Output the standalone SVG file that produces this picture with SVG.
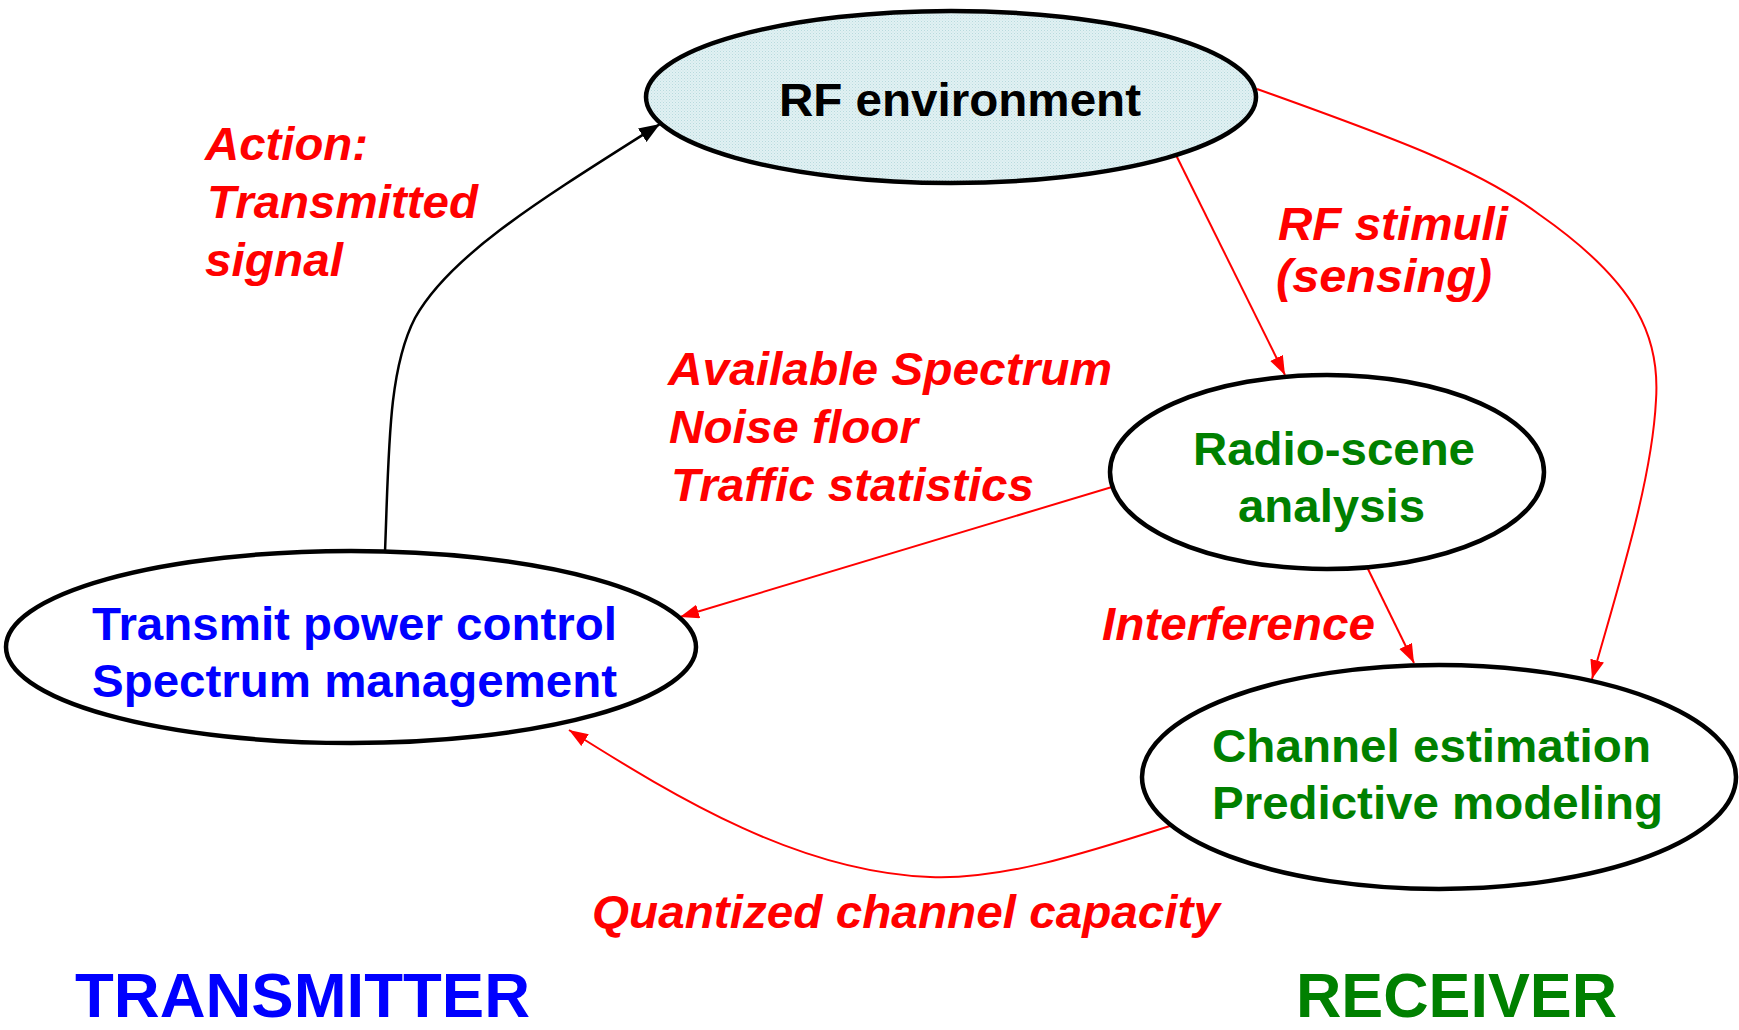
<svg xmlns="http://www.w3.org/2000/svg" width="1739" height="1030" viewBox="0 0 1739 1030">
<style>
  text { font-family: "Liberation Sans", Arial, sans-serif; font-weight: bold; font-size: 46px; }
  .lbl { fill: #ff0000; font-style: italic; }
  .blue { fill: #0000ff; }
  .green { fill: #008000; }
  .black { fill: #000000; }
  .big { font-size: 63px; }
  .node { stroke: #000; stroke-width: 4.5; fill: #ffffff; }
  .red { stroke: #ff0000; stroke-width: 2; fill: none; marker-end: url(#ar); }
  .blk { stroke: #000; stroke-width: 2.5; fill: none; marker-end: url(#ab); }
</style>
<defs>
  <pattern id="dots" width="3" height="3" patternUnits="userSpaceOnUse">
    <rect width="3" height="3" fill="#e1f1f3"/>
    <rect width="1" height="1" fill="#b8dadd"/>
    <rect x="1.5" y="1.5" width="1" height="1" fill="#c6e1e4"/>
  </pattern>
  <marker id="ar" markerUnits="userSpaceOnUse" markerWidth="20" markerHeight="16" refX="19" refY="7" orient="auto">
    <path d="M0,0 L19,7 L0,14 z" fill="#ff0000"/>
  </marker>
  <marker id="ab" markerUnits="userSpaceOnUse" markerWidth="22" markerHeight="18" refX="21" refY="8" orient="auto">
    <path d="M0,0 L21,8 L0,16 z" fill="#000000"/>
  </marker>
</defs>
<rect width="1739" height="1030" fill="#ffffff"/>

<g id="connectors">
  <path class="blk" d="M385,552 C389,450 388,370 415,318 C450,255 540,200 660,124"/>
  <path class="red" d="M1176,155 L1285,375"/>
  <path class="red" d="M1257,89 C1400,140 1480,170 1540,215 C1640,285 1660,340 1656,400 C1652,480 1620,580 1592,679"/>
  <path class="red" d="M1112,487 L680,617"/>
  <path class="red" d="M1367,567 L1414,663"/>
  <path class="red" d="M1173,825 C1080,855 1000,880 930,877 C800,872 680,800 569,730"/>
</g>

<g id="rf-environment">
  <ellipse class="node" cx="951" cy="97" rx="305" ry="86" style="fill:url(#dots)"/>
  <text class="black" x="779" y="116" textLength="362" lengthAdjust="spacingAndGlyphs">RF environment</text>
</g>

<g id="radio-scene">
  <ellipse class="node" cx="1327" cy="472" rx="217" ry="97"/>
  <text class="green" x="1193" y="465" textLength="282" lengthAdjust="spacingAndGlyphs">Radio-scene</text>
  <text class="green" x="1238" y="522" textLength="187" lengthAdjust="spacingAndGlyphs">analysis</text>
</g>

<g id="channel-estimation">
  <ellipse class="node" cx="1439" cy="777" rx="297" ry="112"/>
  <text class="green" x="1212" y="762" textLength="439" lengthAdjust="spacingAndGlyphs">Channel estimation</text>
  <text class="green" x="1212" y="819" textLength="451" lengthAdjust="spacingAndGlyphs">Predictive modeling</text>
</g>

<g id="transmit">
  <ellipse class="node" cx="351" cy="647" rx="345" ry="96"/>
  <text class="blue" x="92" y="640" textLength="525" lengthAdjust="spacingAndGlyphs">Transmit power control</text>
  <text class="blue" x="92" y="697" textLength="525" lengthAdjust="spacingAndGlyphs">Spectrum management</text>
</g>

<g id="labels">
  <text class="lbl" x="205" y="160" textLength="163" lengthAdjust="spacingAndGlyphs">Action:</text>
  <text class="lbl" x="207" y="218" textLength="271" lengthAdjust="spacingAndGlyphs">Transmitted</text>
  <text class="lbl" x="205" y="276" textLength="138" lengthAdjust="spacingAndGlyphs">signal</text>
  <text class="lbl" x="1278" y="240" textLength="230" lengthAdjust="spacingAndGlyphs">RF stimuli</text>
  <text class="lbl" x="1276" y="292" textLength="216" lengthAdjust="spacingAndGlyphs">(sensing)</text>
  <text class="lbl" x="668" y="385" textLength="444" lengthAdjust="spacingAndGlyphs">Available Spectrum</text>
  <text class="lbl" x="669" y="443" textLength="249" lengthAdjust="spacingAndGlyphs">Noise floor</text>
  <text class="lbl" x="671" y="501" textLength="363" lengthAdjust="spacingAndGlyphs">Traffic statistics</text>
  <text class="lbl" x="1102" y="640" textLength="273" lengthAdjust="spacingAndGlyphs">Interference</text>
  <text class="lbl" x="592" y="928" textLength="628" lengthAdjust="spacingAndGlyphs">Quantized channel capacity</text>
</g>

<g id="sides">
  <text class="blue big" x="75" y="1017" textLength="455" lengthAdjust="spacingAndGlyphs">TRANSMITTER</text>
  <text class="green big" x="1296" y="1017" textLength="321" lengthAdjust="spacingAndGlyphs">RECEIVER</text>
</g>
</svg>
